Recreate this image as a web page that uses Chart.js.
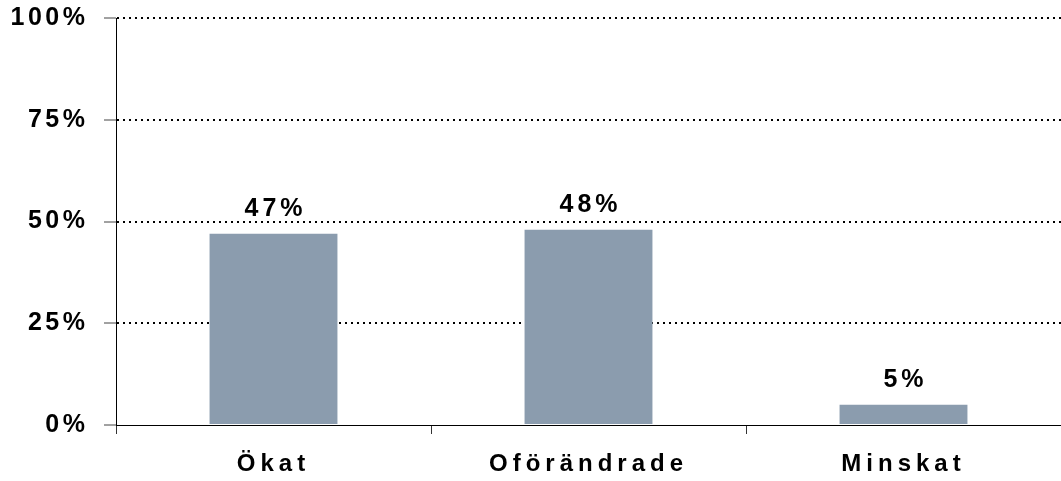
<!DOCTYPE html>
<html>
<head>
<meta charset="utf-8">
<script src="https://cdn.jsdelivr.net/npm/chart.js@4/dist/chart.umd.min.js"></script>
<style>
  html, body { margin: 0; padding: 0; background: #fff; }
  #wrap { width: 1061px; height: 481px; position: relative; }
</style>
</head>
<body>
<div id="wrap"><canvas id="c" width="1061" height="481"></canvas></div>
<script>
const categories = ['Ökat', 'Oförändrade', 'Minskat'];
const values = [47, 48, 5];
const yTicks = [0, 25, 50, 75, 100];

const FONT_FAMILY = '"Liberation Sans", Arial, Helvetica, sans-serif';
const Y_FONT = 25, Y_SPACING = 3.5;
const X_FONT = 24, X_SPACING = 5;
const V_FONT = 25, V_SPACING = 4;

// per-axis letter spacing by wrapping the scale label drawing
const spacingPlugin = {
  id: 'spacing',
  afterLayout(chart) {
    [['x', X_SPACING], ['y', Y_SPACING]].forEach(([id, sp]) => {
      const scale = chart.scales[id];
      if (scale._wrapped) return;
      const orig = scale.drawLabels;
      scale.drawLabels = function (area) {
        const ctx = this.ctx;
        const prev = ctx.letterSpacing;
        ctx.letterSpacing = sp + 'px';
        orig.call(this, area);
        ctx.letterSpacing = prev;
      };
      scale._wrapped = true;
    });
  }
};

const valueLabels = {
  id: 'valueLabels',
  afterDatasetsDraw(chart) {
    const ctx = chart.ctx;
    const meta = chart.getDatasetMeta(0);
    ctx.save();
    ctx.letterSpacing = V_SPACING + 'px';
    ctx.font = 'bold ' + V_FONT + 'px ' + FONT_FAMILY;
    ctx.fillStyle = '#000';
    ctx.textAlign = 'center';
    ctx.textBaseline = 'alphabetic';
    meta.data.forEach((bar, i) => {
      ctx.fillText(values[i] + '%', bar.x + V_SPACING / 2, bar.y - 18);
    });
    ctx.restore();
  }
};

new Chart(document.getElementById('c'), {
  type: 'bar',
  data: {
    labels: categories,
    datasets: [{
      data: values,
      backgroundColor: '#8b9cae',
      borderWidth: 0,
      barPercentage: 0.406,
      categoryPercentage: 1.0
    }]
  },
  options: {
    responsive: false,
    animation: false,
    devicePixelRatio: 1,
    layout: { padding: { top: 18, right: 0, left: 0, bottom: 0 } },
    plugins: { legend: { display: false }, tooltip: { enabled: false } },
    scales: {
      x: {
        grid: {
          display: true,
          offset: true,
          drawOnChartArea: false,
          drawTicks: true,
          tickLength: 9,
          tickColor: '#333',
          tickWidth: 1
        },
        border: { display: true, color: '#000', width: 1 },
        ticks: {
          color: '#000',
          font: { family: FONT_FAMILY, size: X_FONT, weight: 'bold' },
          padding: 16,
          maxRotation: 0,
          autoSkip: false
        },
        afterFit(scale) { scale.height = 56; scale.paddingLeft = 0; scale.paddingRight = 0; }
      },
      y: {
        min: 0,
        max: 100,
        afterBuildTicks(scale) { scale.ticks = yTicks.map(v => ({ value: v })); },
        grid: {
          color: c => (c.tick && c.tick.value === 0) ? 'rgba(0,0,0,0)' : '#000',
          lineWidth: 2,
          drawTicks: true,
          tickLength: 12,
          tickColor: '#444',
          tickWidth: 1,
          tickBorderDash: []
        },
        border: { display: true, color: '#000', width: 1, dash: [2, 4] },
        ticks: {
          color: '#000',
          font: { family: FONT_FAMILY, size: Y_FONT, weight: 'bold' },
          padding: 15.5,
          callback: v => v + '%'
        },
        afterFit(scale) { scale.width = 116; scale.paddingTop = 0; scale.paddingBottom = 0; }
      }
    }
  },
  plugins: [spacingPlugin, valueLabels]
});
</script>
</body>
</html>
